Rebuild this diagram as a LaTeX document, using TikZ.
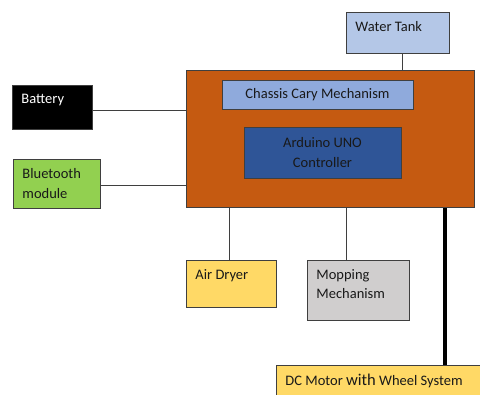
\documentclass[tikz,border=0pt]{standalone}
\usepackage{fontspec}
\setmainfont{Carlito}
\definecolor{rustorange}{HTML}{C55A11}
\definecolor{chassisblue}{HTML}{8FAADC}
\definecolor{unoblue}{HTML}{2F5597}
\definecolor{tankblue}{HTML}{B4C7E7}
\definecolor{btgreen}{HTML}{92D050}
\definecolor{dryyellow}{HTML}{FFD966}
\definecolor{mopgray}{HTML}{D0CECE}
\definecolor{edgegray}{HTML}{3F3F3F}
% text set in the upper left corner of a box of given width and height
\newcommand{\boxtext}[3]{\parbox[c][\dimexpr#2pt-18pt\relax][t]{\dimexpr#1pt-18pt\relax}{\raggedright #3}}
\tikzset{
  blk/.style={draw=edgegray, line width=0.9pt, inner sep=9pt, anchor=north west,
    font=\fontsize{14.5}{19.5}\selectfont, text=black!90},
  midblk/.style={blk, anchor=center, inner sep=0pt, align=center},
  link/.style={draw=edgegray, line width=1.1pt},
}
\begin{document}
\begin{tikzpicture}[x=1pt, y=-1pt]
  \useasboundingbox (0,0) rectangle (480,395);
  \clip (0,0) rectangle (480,395);
  % Main body with its two inner blocks
  \node[blk, fill=rustorange, minimum width=288pt, minimum height=137pt, inner sep=0pt] (main) at (186,70) {};
  \node[midblk, fill=chassisblue, minimum width=191pt, minimum height=29pt] (chassis) at (317.5,94.5) {Chassis Cary Mechanism};
  \node[midblk, fill=unoblue, minimum width=157pt, minimum height=51pt] (uno) at (322.5,152.5) {Arduino UNO\\Controller};
  % Blocks round the main body
  \node[blk, fill=tankblue] (tank) at (346,12) {\boxtext{103}{41}{Water Tank}};
  \node[blk, fill=black, text=white] (bat) at (12,85) {\boxtext{80}{44}{Battery}};
  \node[blk, fill=btgreen] (bt) at (13,159) {\boxtext{87}{49}{Bluetooth\\module}};
  \node[blk, fill=dryyellow] (dryer) at (186,260) {\boxtext{90}{47}{Air Dryer}};
  \node[blk, fill=mopgray] (mop) at (307,260) {\boxtext{102}{60}{Mopping\\Mechanism}};
  \node[blk, fill=dryyellow] (dc) at (276,365) {\boxtext{230}{50}{DC Motor {\fontsize{16.5}{19.5}\selectfont with} Wheel System}};
  % Connectors
  \draw[link] ([xshift=4.5pt]tank.south) -- ([xshift=4.5pt]tank.south |- main.north);
  \draw[link] ([yshift=-3pt]bat.east) -- ([yshift=-3pt]bat.east -| main.west);
  \draw[link] ([yshift=-1.5pt]bt.east) -- ([yshift=-1.5pt]bt.east -| main.west);
  \draw[link] ([xshift=-2pt]dryer.north) -- ([xshift=-2pt]dryer.north |- main.south);
  \draw[link] ([xshift=-12pt]mop.north) -- ([xshift=-12pt]mop.north |- main.south);
  \draw[line width=3.5pt] ([xshift=-30pt]main.south east) -- ([xshift=-30pt]main.south east |- dc.north);
\end{tikzpicture}
\end{document}
